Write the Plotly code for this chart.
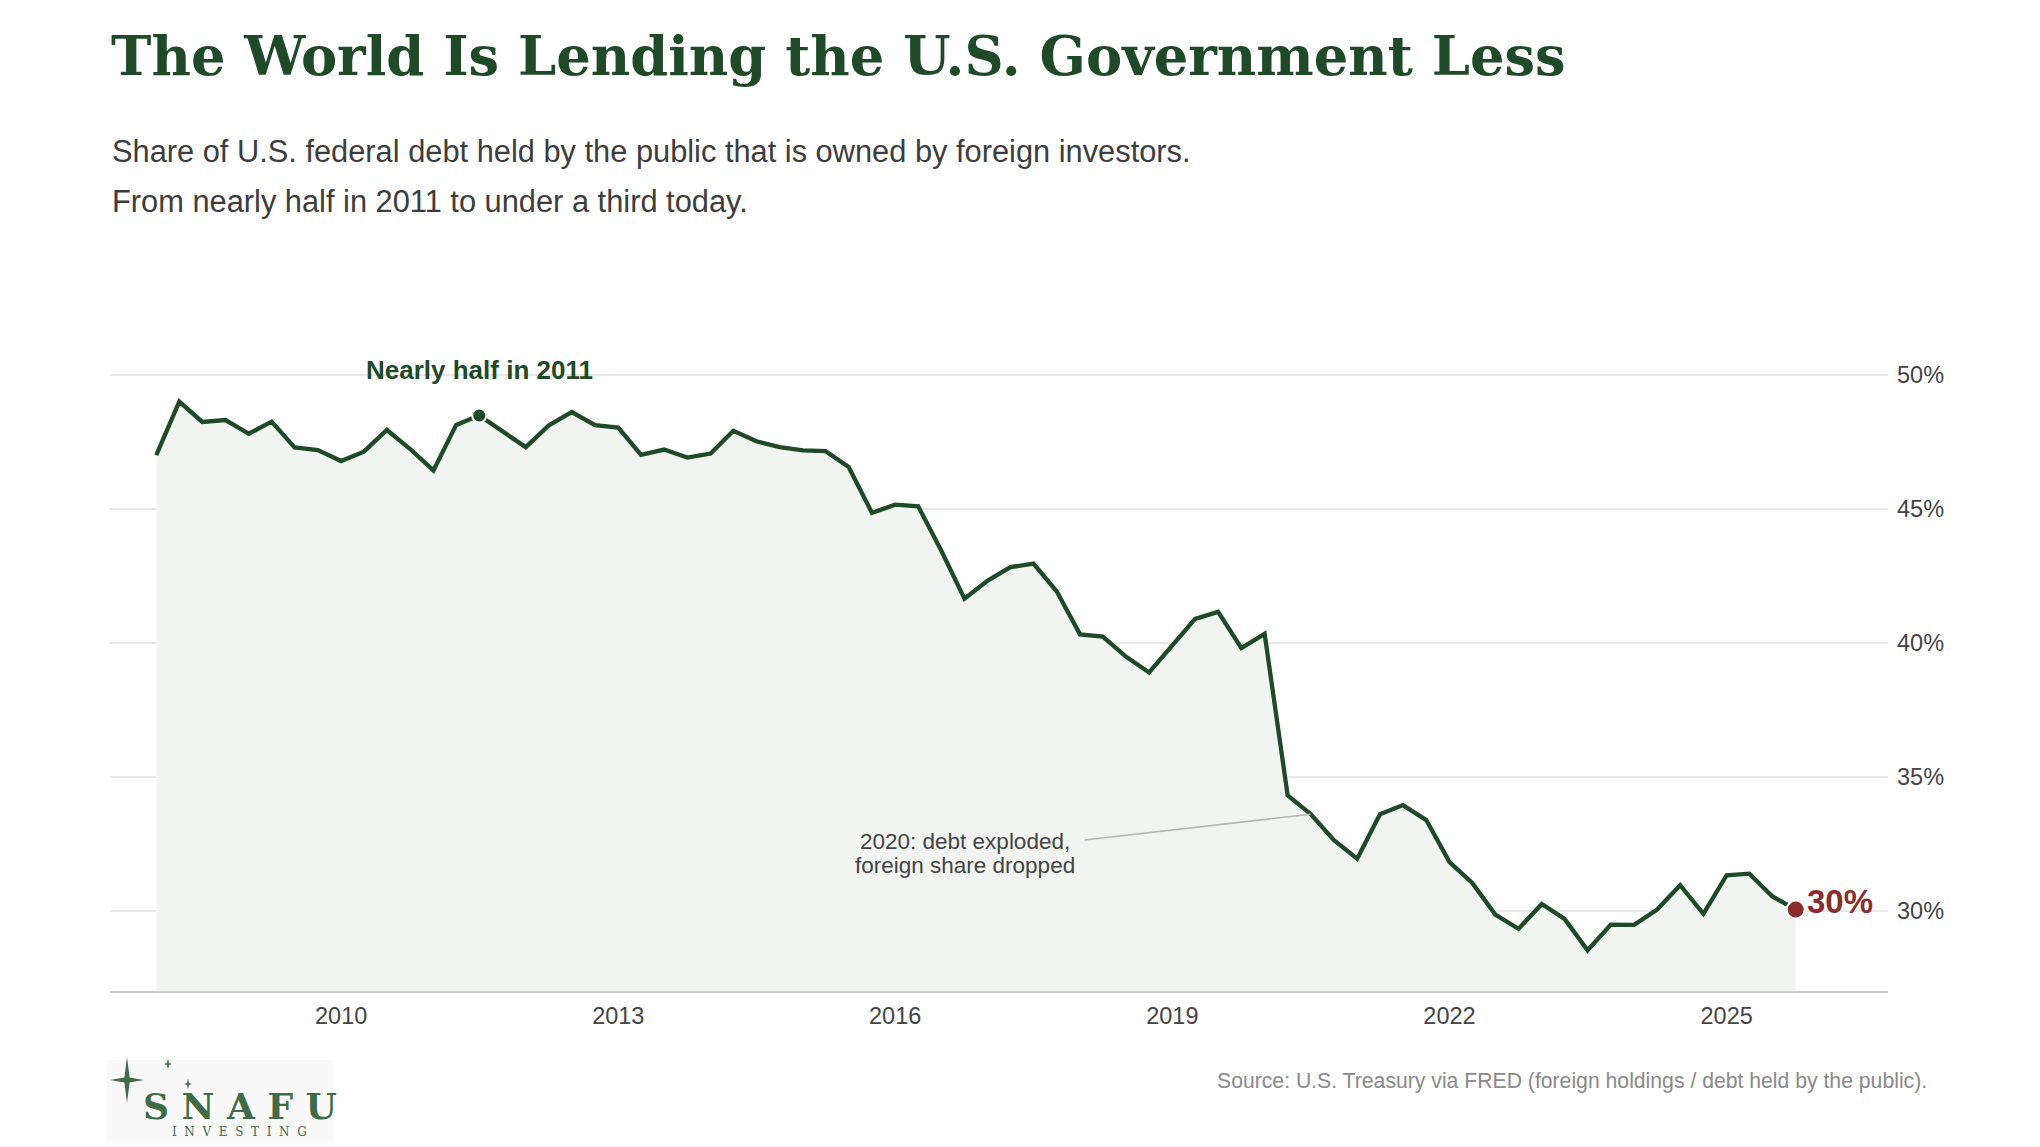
import plotly.graph_objects as go
import pandas as pd

# ---------------- data (quarterly, % of debt held by public owned by foreign investors)
start_date = "2008-01-01"
share = [
    47.0, 49.0, 48.24, 48.31, 47.80, 48.25, 47.29, 47.19, 46.78, 47.13,
    47.94, 47.23, 46.43, 48.13, 48.48, 47.88, 47.30, 48.11, 48.61, 48.12,
    48.03, 47.01, 47.21, 46.91, 47.06, 47.91, 47.52, 47.30, 47.18, 47.15,
    46.56, 44.85, 45.15, 45.09, 43.44, 41.64, 42.32, 42.82, 42.95, 41.91,
    40.31, 40.23, 39.48, 38.89, 39.89, 40.89, 41.15, 39.80, 40.33, 34.30,
    33.60, 32.63, 31.94, 33.60, 33.94, 33.38, 31.81, 31.03, 29.85, 29.32,
    30.25, 29.69, 28.52, 29.48, 29.47, 30.04, 30.95, 29.88, 31.32, 31.38,
    30.53, 30.04,
]
dates = pd.date_range(start_date, periods=len(share), freq="QS")
peak_idx = 14          # 2011-07
covid_idx = 50         # 2020-07
y_ticks = [30, 35, 40, 45, 50]
x_tick0 = "2010-01-01"

title_text = "The World Is Lending the U.S. Government Less"
subtitle_1 = "Share of U.S. federal debt held by the public that is owned by foreign investors."
subtitle_2 = "From nearly half in 2011 to under a third today."
source_text = "Source: U.S. Treasury via FRED (foreign holdings / debt held by the public)."
peak_label = "Nearly half in 2011"
covid_label_1 = "2020: debt exploded,"
covid_label_2 = "foreign share dropped"

# ---------------- style
GREEN = "#1f4a28"
LOGO = "#3f6b47"
RED = "#8b2d2d"
FILL = "#f2f4f1"
SANS = "Liberation Sans, Arial, sans-serif"
SERIF = "DejaVu Serif, Georgia, serif"

W, H = 2040, 1147
ML, MR, MT, MB = 110, 152, 348, 156
PW, PH = W - ML - MR, H - MT - MB


def px(x):
    return (x - ML) / PW


def py(y):
    return (H - MB - y) / PH


def sparkle(cx, cy, a, b, w):
    """4-point star outline in paper coordinates (pixel inputs)."""
    pts = [(cx, cy - a), (cx + w, cy - w), (cx + b, cy), (cx + w, cy + w),
           (cx, cy + a), (cx - w, cy + w), (cx - b, cy), (cx - w, cy - w)]
    d = "M " + " L ".join("%.5f %.5f" % (px(x), py(y)) for x, y in pts) + " Z"
    return dict(type="path", xref="paper", yref="paper", path=d,
                fillcolor=LOGO, line=dict(width=0))


fig = go.Figure()

fig.add_trace(go.Scatter(
    x=dates, y=share, mode="lines", fill="tozeroy", fillcolor=FILL,
    line=dict(width=0, color=FILL), hoverinfo="skip", showlegend=False))

fig.add_trace(go.Scatter(
    x=dates, y=share, mode="lines",
    line=dict(color=GREEN, width=4.3), showlegend=False))

fig.add_trace(go.Scatter(
    x=[dates[peak_idx]], y=[share[peak_idx]], mode="markers",
    marker=dict(size=14, color=GREEN, line=dict(color="white", width=2)),
    showlegend=False))

fig.add_trace(go.Scatter(
    x=[dates[-1]], y=[share[-1]], mode="markers",
    marker=dict(size=18, color=RED, line=dict(color="white", width=2)),
    showlegend=False))

annotations = [
    dict(x=dates[peak_idx], y=share[peak_idx], text="<b>" + peak_label + "</b>",
         showarrow=False, yshift=46, xanchor="center", yanchor="middle",
         font=dict(family=SANS, size=26, color=GREEN)),
    dict(x=dates[-1], y=share[-1], text="<b>%d%%</b>" % round(share[-1]),
         showarrow=False, xanchor="left", yanchor="middle", xshift=9, yshift=8,
         font=dict(family=SANS, size=33, color=RED)),
    # 2020 callout: connector + two text lines
    dict(x=dates[covid_idx], y=share[covid_idx], text=" ",
         showarrow=True, arrowhead=0, arrowwidth=1.6, arrowcolor="#b5b5b5",
         ax=-228, ay=26, standoff=0, font=dict(size=2)),
    dict(x=dates[covid_idx], y=share[covid_idx], text=covid_label_1,
         showarrow=False, xanchor="center", yanchor="middle", xshift=-346, yshift=-27,
         font=dict(family=SANS, size=22.5, color="#444444")),
    dict(x=dates[covid_idx], y=share[covid_idx], text=covid_label_2,
         showarrow=False, xanchor="center", yanchor="middle", xshift=-346, yshift=-51,
         font=dict(family=SANS, size=22.5, color="#444444")),
    # title & subtitle
    dict(xref="paper", yref="paper", x=px(109), y=py(56), text="<b>" + title_text + "</b>",
         showarrow=False, xanchor="left", yanchor="middle",
         font=dict(family=SERIF, size=54.3, color=GREEN)),
    dict(xref="paper", yref="paper", x=px(110), y=py(151), text=subtitle_1,
         showarrow=False, xanchor="left", yanchor="middle",
         font=dict(family=SANS, size=30.8, color="#3d3d3d")),
    dict(xref="paper", yref="paper", x=px(110), y=py(202), text=subtitle_2,
         showarrow=False, xanchor="left", yanchor="middle",
         font=dict(family=SANS, size=30.8, color="#3d3d3d")),
    # source
    dict(xref="paper", yref="paper", x=px(1929), y=py(1081), text=source_text,
         showarrow=False, xanchor="right", yanchor="middle",
         font=dict(family=SANS, size=21.2, color="#8a8a8a")),
    # logo text
    dict(xref="paper", yref="paper", x=px(240), y=py(1106), text="<b>S N A F U</b>",
         showarrow=False, xanchor="center", yanchor="middle",
         font=dict(family=SERIF, size=36, color=LOGO)),
    dict(xref="paper", yref="paper", x=px(239), y=py(1132), text="I  N  V  E  S  T  I  N  G",
         showarrow=False, xanchor="center", yanchor="middle",
         font=dict(family=SERIF, size=12, color=LOGO)),
]

shapes = [
    dict(type="rect", xref="paper", yref="paper",
         x0=px(107), x1=px(333), y0=py(1142), y1=py(1060),
         fillcolor="#f9f9f9", line=dict(width=0), layer="below"),
    sparkle(127, 1080, 23, 17, 2.6),
    sparkle(168, 1064, 5.5, 4, 1.0),
    sparkle(188, 1084, 5.5, 4, 1.0),
]

fig.update_layout(
    width=W, height=H,
    margin=dict(l=ML, r=MR, t=MT, b=MB),
    paper_bgcolor="white", plot_bgcolor="white",
    annotations=annotations,
    shapes=shapes,
    font=dict(family=SANS),
    hovermode=False,
)

fig.update_xaxes(
    type="date", range=["2007-07-02", "2026-10-01"],
    tick0=x_tick0, dtick="M36", tickformat="%Y",
    showgrid=False, zeroline=False,
    showline=True, linecolor="#cccccc", linewidth=2,
    ticks="", ticklabelstandoff=3,
    tickfont=dict(family=SANS, size=23.5, color="#444444"),
)

fig.update_yaxes(
    range=[27, 51], side="right", tickvals=y_ticks,
    ticktext=["%d%%" % v for v in y_ticks],
    showgrid=True, gridcolor="#e8e8e8", gridwidth=1.5,
    zeroline=False, showline=False, ticks="", ticklabelstandoff=8,
    tickfont=dict(family=SANS, size=23.5, color="#444444"),
)

fig.write_html("out.html",
               config={"displayModeBar": False},
               post_script="document.body.style.margin='0px';document.body.style.overflow='hidden';")
